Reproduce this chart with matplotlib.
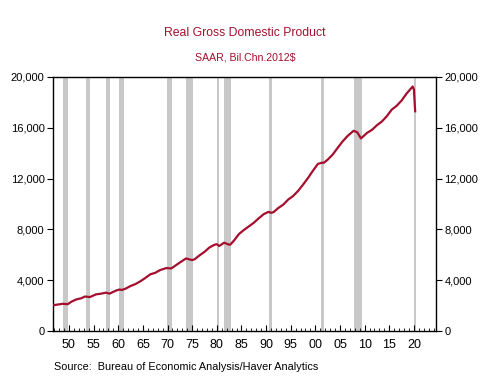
import matplotlib.pyplot as plt
from matplotlib.ticker import MultipleLocator, FixedLocator

plt.rcParams['font.family'] = ['Liberation Sans', 'DejaVu Sans']

# real GDP, bil. chained 2012$ (decimal year, value)
years = [1947.0, 1948.75, 1949.75, 1950.5, 1951.5, 1952.5, 1953.25, 1954.25,
         1955.5, 1956.5, 1957.5, 1958.25, 1959.5, 1960.25, 1960.75, 1961.5,
         1962.5, 1963.5, 1964.5, 1965.5, 1966.5, 1967.5, 1968.5, 1969.75,
         1970.75, 1971.5, 1972.5, 1973.75, 1975.0, 1975.5, 1976.5, 1977.5,
         1978.5, 1979.5, 1980.0, 1980.5, 1981.5, 1982.5, 1982.75, 1983.5,
         1984.5, 1985.5, 1986.5, 1987.5, 1988.5, 1989.5, 1990.5, 1991.0,
         1991.5, 1992.5, 1993.5, 1994.5, 1995.5, 1996.5, 1997.5, 1998.5,
         1999.5, 2000.5, 2001.25, 2001.75, 2002.5, 2003.5, 2004.5, 2005.5,
         2006.5, 2007.75, 2008.5, 2009.25, 2010.5, 2011.5, 2012.5, 2013.5,
         2014.5, 2015.5, 2016.5, 2017.5, 2018.5, 2019.75, 2020.0, 2020.25]
gdp = [2034, 2136, 2106, 2300, 2480, 2570, 2710, 2665,
       2880, 2930, 3015, 2935, 3170, 3260, 3225, 3330,
       3535, 3690, 3910, 4170, 4455, 4575, 4790, 4950,
       4920, 5115, 5385, 5705, 5580, 5640, 5950, 6225,
       6570, 6780, 6830, 6690, 6950, 6790, 6800, 7120,
       7630, 7950, 8230, 8515, 8865, 9190, 9380, 9300,
       9350, 9685, 9950, 10350, 10630, 11030, 11520, 12040,
       12610, 13150, 13240, 13250, 13490, 13880, 14405, 14910,
       15340, 15760, 15650, 15160, 15600, 15840, 16200, 16495,
       16910, 17430, 17730, 18145, 18690, 19250, 19010, 17300]

# NBER recessions (start, end) as decimal years
rec_start = [1948.83, 1953.5, 1957.58, 1960.25, 1969.92, 1973.83, 1980.0,
             1981.5, 1990.5, 2001.17, 2007.92, 2020.08]
rec_end = [1949.75, 1954.33, 1958.25, 1961.08, 1970.83, 1975.17, 1980.5,
           1982.83, 1991.17, 2001.83, 2009.42, 2020.33]

yticks = [0, 4000, 8000, 12000, 16000, 20000]
xticks = [1950, 1955, 1960, 1965, 1970, 1975, 1980, 1985, 1990, 1995,
          2000, 2005, 2010, 2015, 2020]
xlabels = ['50', '55', '60', '65', '70', '75', '80', '85', '90', '95',
           '00', '05', '10', '15', '20']

red = '#a50f2d'

fig = plt.figure(figsize=(4.9, 3.83), dpi=100)
ax = fig.add_axes([0.108, 0.136, 0.782, 0.663])

for s, e in zip(rec_start, rec_end):
    ax.axvspan(s, e, color='#c8c8c8', lw=0, zorder=1)

ax.plot(years, gdp, color=red, lw=1.6, zorder=3)

ax.set_xlim(1946.75, 2024.5)
ax.set_ylim(0, 20000)
ax.yaxis.set_major_locator(FixedLocator(yticks))
ax.set_yticklabels(['{:,}'.format(v) for v in yticks])
ax.xaxis.set_major_locator(FixedLocator(xticks))
ax.set_xticklabels(xlabels)
ax.xaxis.set_minor_locator(MultipleLocator(1))

ax.tick_params(axis='y', direction='out', length=4, width=0.8, labelsize=8,
               left=True, right=True, labelleft=True, labelright=True, pad=2)
ax.tick_params(axis='x', which='major', direction='in', length=4, width=0.8,
               labelsize=9, pad=6)
ax.tick_params(axis='x', which='minor', direction='in', length=2, width=0.6)
for sp in ax.spines.values():
    sp.set_linewidth(1.0)

fig.text(0.5, 0.913, 'Real Gross Domestic Product', ha='center', va='center',
         color=red, fontsize=8.8)
fig.text(0.5, 0.851, 'SAAR, Bil.Chn.2012$', ha='center', va='center',
         color=red, fontsize=7.6)
fig.text(0.11, 0.042, 'Source:  Bureau of Economic Analysis/Haver Analytics',
         ha='left', va='center', fontsize=7.8)

fig.savefig('out.png', dpi=100)
